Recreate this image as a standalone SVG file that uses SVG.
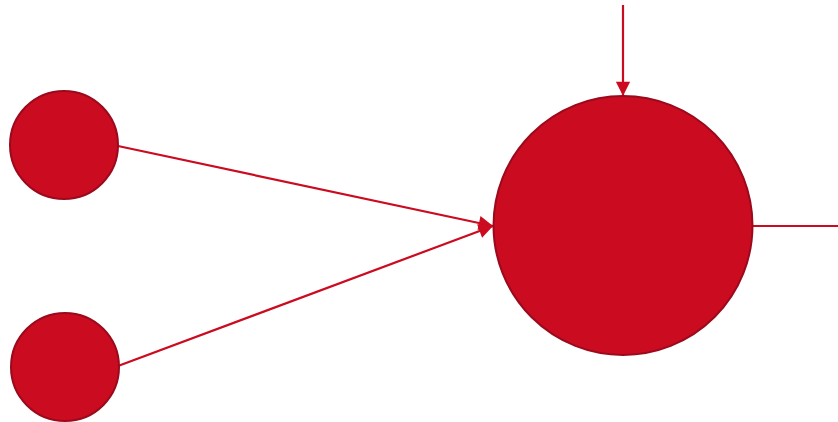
<svg xmlns="http://www.w3.org/2000/svg" width="838" height="422" viewBox="0 0 838 422">
<style>
.node{fill:#CB0B20;stroke:#9B0A1C;stroke-width:2}
.edge{stroke:#CB0B20;stroke-width:2.2;fill:none}
</style>
<defs>
<marker id="ah" viewBox="0 0 10 10" refX="10" refY="5" markerWidth="7" markerHeight="6.5" markerUnits="strokeWidth" orient="auto">
<path d="M0,0 L10,5 L0,10 z" fill="#CB0B20"/>
</marker>
</defs>
<rect width="838" height="422" fill="#fff"/>
<g id="connectors">
<line class="edge" x1="118" y1="146" x2="493" y2="226" marker-end="url(#ah)"/>
<line class="edge" x1="118" y1="366" x2="493" y2="226" marker-end="url(#ah)"/>
<line class="edge" x1="623" y1="5" x2="623" y2="96" marker-end="url(#ah)"/>
<line class="edge" x1="752" y1="226" x2="838" y2="226"/>
</g>
<g id="in1"><circle class="node" cx="64" cy="145" r="54"/></g>
<g id="in2"><circle class="node" cx="65" cy="367" r="54"/></g>
<g id="neuron"><circle class="node" cx="623" cy="225.5" r="129.5"/></g>
</svg>
